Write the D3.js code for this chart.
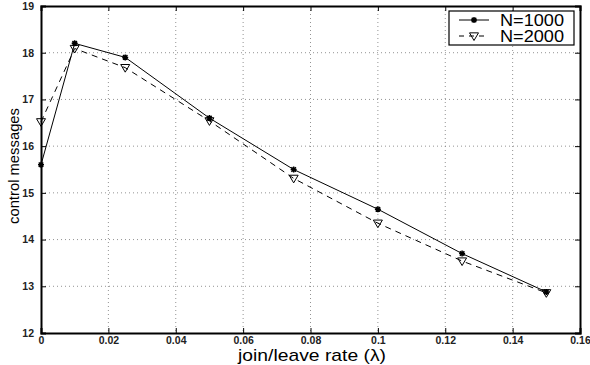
<!DOCTYPE html>
<html>
<head>
<meta charset="utf-8">
<script src="https://cdn.jsdelivr.net/npm/d3@7"></script>
<style>
body { margin: 0; background: #fff; }
text { font-family: "Liberation Sans", Arial, sans-serif; }
</style>
</head>
<body>
<svg width="590" height="365"></svg>
<script>
// data
var rates = [0, 0.01, 0.025, 0.05, 0.075, 0.1, 0.125, 0.15];
var n1000 = [15.6, 18.2, 17.9, 16.6, 15.5, 14.65, 13.7, 12.88];
var n2000 = [16.52, 18.09, 17.68, 16.54, 15.31, 14.35, 13.54, 12.86];
var xTicks = [0, 0.02, 0.04, 0.06, 0.08, 0.1, 0.12, 0.14, 0.16];
var yTicks = [12, 13, 14, 15, 16, 17, 18, 19];

var svg = d3.select("svg");
var pLeft = 41, pRight = 580, pTop = 6, pBottom = 333;

var x = d3.scaleLinear().domain([0, 0.16]).range([pLeft, pRight]);
var y = d3.scaleLinear().domain([12, 19]).range([pBottom, pTop]);

// grid
var grid = svg.append("g");
grid.selectAll("line.vx").data(xTicks.slice(1, -1)).enter().append("line")
  .attr("x1", function(d) { return x(d); }).attr("x2", function(d) { return x(d); })
  .attr("y1", pTop).attr("y2", pBottom)
  .attr("stroke", "#777").attr("stroke-width", 0.8).attr("stroke-dasharray", "1,3");
grid.selectAll("line.hy").data(yTicks.slice(1, -1)).enter().append("line")
  .attr("y1", function(d) { return y(d); }).attr("y2", function(d) { return y(d); })
  .attr("x1", pLeft).attr("x2", pRight)
  .attr("stroke", "#777").attr("stroke-width", 0.8).attr("stroke-dasharray", "1,3");

// axes with inward ticks
svg.append("g").attr("transform", "translate(0," + pBottom + ")")
  .call(d3.axisBottom(x).tickValues(xTicks).tickSize(-5).tickPadding(4)
    .tickFormat(function(d) { return d; }));
svg.append("g").attr("transform", "translate(" + pLeft + ",0)")
  .call(d3.axisLeft(y).tickValues(yTicks).tickSize(-5).tickPadding(7)
    .tickFormat(d3.format("d")));
svg.append("g").attr("transform", "translate(0," + pTop + ")")
  .call(d3.axisTop(x).tickValues(xTicks).tickSize(-5).tickFormat(""));
svg.append("g").attr("transform", "translate(" + pRight + ",0)")
  .call(d3.axisRight(y).tickValues(yTicks).tickSize(-5).tickFormat(""));

svg.selectAll(".domain").attr("stroke", "#000").attr("stroke-width", 2);
svg.selectAll(".tick line").attr("stroke", "#000");
svg.selectAll(".tick text").attr("font-size", 10.5).attr("font-weight", "bold")
  .attr("fill", "#222").attr("font-family", "Liberation Sans, Arial, sans-serif");

// lines
var line = d3.line().x(function(d) { return x(d[0]); }).y(function(d) { return y(d[1]); });
var s1 = rates.map(function(r, i) { return [r, n1000[i]]; });
var s2 = rates.map(function(r, i) { return [r, n2000[i]]; });

svg.append("path").datum(s2).attr("d", line)
  .attr("fill", "none").attr("stroke", "#000").attr("stroke-width", 1).attr("stroke-dasharray", "6,5");
svg.append("path").datum(s1).attr("d", line)
  .attr("fill", "none").attr("stroke", "#000").attr("stroke-width", 1);

function star(g, cx, cy) {
  var r = 3;
  g.append("path")
    .attr("d", "M" + (cx - r) + "," + cy + "H" + (cx + r) +
      "M" + cx + "," + (cy - r) + "V" + (cy + r) +
      "M" + (cx - r * 0.75) + "," + (cy - r * 0.75) + "L" + (cx + r * 0.75) + "," + (cy + r * 0.75) +
      "M" + (cx - r * 0.75) + "," + (cy + r * 0.75) + "L" + (cx + r * 0.75) + "," + (cy - r * 0.75))
    .attr("stroke", "#000").attr("stroke-width", 1.5).attr("fill", "none");
}
function tri(g, cx, cy) {
  var r = 4.5;
  g.append("path")
    .attr("d", "M" + (cx - r) + "," + (cy - r * 0.7) + "L" + (cx + r) + "," + (cy - r * 0.7) +
      "L" + cx + "," + (cy + r) + "Z")
    .attr("stroke", "#000").attr("stroke-width", 1).attr("fill", "none");
}

var marks = svg.append("g");
s2.forEach(function(d) { tri(marks, x(d[0]), y(d[1])); });
s1.forEach(function(d) { star(marks, x(d[0]), y(d[1])); });

// axis titles
svg.append("text").attr("x", 238).attr("y", 361)
  .attr("font-size", 17).attr("textLength", 148).attr("lengthAdjust", "spacingAndGlyphs")
  .text("join/leave rate (λ)");
svg.append("text").attr("transform", "translate(19,224) rotate(-90)")
  .attr("font-size", 15).attr("textLength", 116).attr("lengthAdjust", "spacingAndGlyphs")
  .text("control messages");

// legend
var lg = svg.append("g");
lg.append("rect").attr("x", 449).attr("y", 11).attr("width", 125).attr("height", 34)
  .attr("fill", "#fff").attr("stroke", "#000").attr("stroke-width", 1.2);
lg.append("line").attr("x1", 459).attr("x2", 489).attr("y1", 20).attr("y2", 20)
  .attr("stroke", "#000");
star(lg, 474, 20);
lg.append("line").attr("x1", 459).attr("x2", 489).attr("y1", 36).attr("y2", 36)
  .attr("stroke", "#000").attr("stroke-dasharray", "5,5");
tri(lg, 474, 36);
lg.append("text").attr("x", 500).attr("y", 26).attr("font-size", 16)
  .attr("textLength", 64).attr("lengthAdjust", "spacingAndGlyphs").text("N=1000");
lg.append("text").attr("x", 500).attr("y", 42).attr("font-size", 16)
  .attr("textLength", 64).attr("lengthAdjust", "spacingAndGlyphs").text("N=2000");
</script>
</body>
</html>
